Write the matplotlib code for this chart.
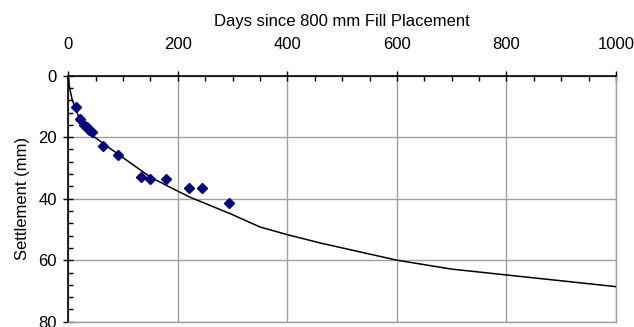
import matplotlib
matplotlib.use("Agg")
import matplotlib.pyplot as plt
from matplotlib.ticker import MultipleLocator

plt.rcParams['font.family'] = ['Liberation Sans', 'DejaVu Sans']

# Measured settlement
days_meas = [14, 21, 28, 34, 38, 43, 63, 90, 133, 149, 179, 221, 245, 293]
settle_meas = [10.2, 14.0, 15.9, 16.8, 17.5, 18.3, 22.7, 25.7, 32.8, 33.6, 33.5, 36.5, 36.4, 41.5]

# Predicted curve
days_curve = [0, 2, 7, 21, 46, 79, 150, 186, 222, 296, 350, 400, 460, 600, 700, 800, 1000]
settle_curve = [0, 3.5, 7.8, 14.3, 19.7, 24.0, 33.0, 36.3, 39.5, 44.9, 49.2, 51.7, 54.4, 60.0, 62.9, 64.8, 68.6]

x_ticks = [0, 200, 400, 600, 800, 1000]
y_ticks = [0, 20, 40, 60, 80]

fig = plt.figure(figsize=(6.34, 3.27), dpi=100)
ax = fig.add_axes([68.3/634, 1-321.7/327, (616-68.3)/634, (321.7-75.7)/327])

ax.plot(days_curve, settle_curve, color='black', lw=1.1, zorder=3)
ax.plot(days_meas, settle_meas, linestyle='none', marker='D', ms=4.6,
        color='#000080', mec='#000080', zorder=4, clip_on=False)

ax.set_xlim(0, 1000)
ax.set_ylim(80, 0)
ax.set_xticks(x_ticks)
ax.set_yticks(y_ticks)
ax.xaxis.set_minor_locator(MultipleLocator(50))
ax.yaxis.set_minor_locator(MultipleLocator(4))
ax.xaxis.tick_top()
ax.xaxis.set_label_position('top')

ax.grid(True, which='major', color='#a0a0a0', lw=1.0, zorder=0)
ax.set_axisbelow(True)

for s in ['right', 'bottom']:
    ax.spines[s].set_color('#a0a0a0')
    ax.spines[s].set_linewidth(1.0)
for s in ['top', 'left']:
    ax.spines[s].set_color('black')
    ax.spines[s].set_linewidth(1.2)

ax.tick_params(axis='both', which='major', direction='inout', length=6.5, width=1.0,
               labelsize=12, color='black')
ax.tick_params(axis='x', which='major', pad=14)
ax.tick_params(axis='y', which='major', pad=5)
ax.tick_params(axis='both', which='minor', direction='in', length=3.5, width=1.0, color='black')
ax.tick_params(axis='x', which='both', top=True, bottom=False)
ax.tick_params(axis='y', which='both', left=True, right=False)

ax.set_xlabel('Days since 800 mm Fill Placement', fontsize=12, labelpad=7.5)
ax.set_ylabel('Settlement (mm)', fontsize=12, labelpad=6)

fig.savefig('out.png', dpi=100)
